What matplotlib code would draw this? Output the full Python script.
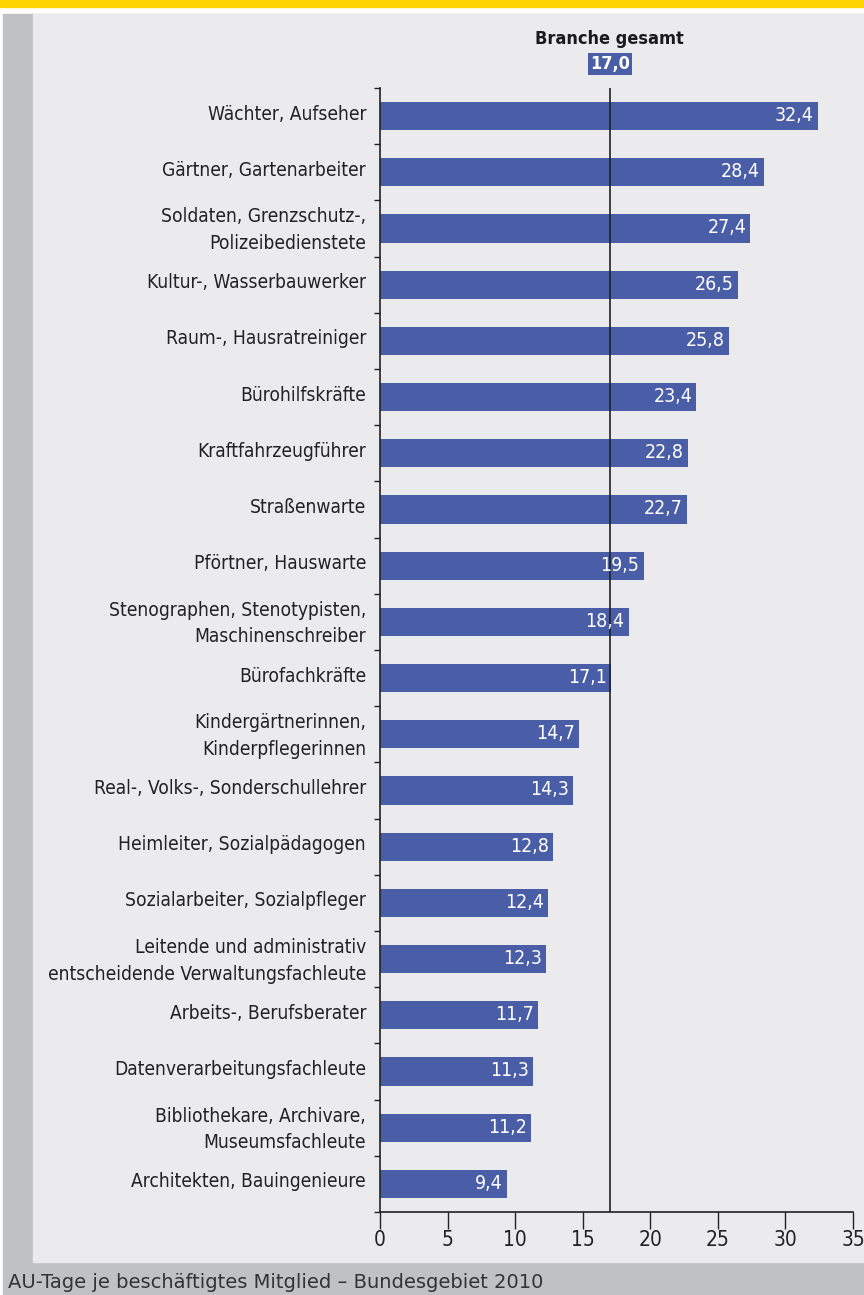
import matplotlib
matplotlib.use('Agg')
import matplotlib.pyplot as plt
from matplotlib.patches import Rectangle
from matplotlib.transforms import ScaledTranslation

# Werte aus der Grafik
berufe = [
    'Wächter, Aufseher',
    'Gärtner, Gartenarbeiter',
    'Soldaten, Grenzschutz-,\nPolizeibedienstete',
    'Kultur-, Wasserbauwerker',
    'Raum-, Hausratreiniger',
    'Bürohilfskräfte',
    'Kraftfahrzeugführer',
    'Straßenwarte',
    'Pförtner, Hauswarte',
    'Stenographen, Stenotypisten,\nMaschinenschreiber',
    'Bürofachkräfte',
    'Kindergärtnerinnen,\nKinderpflegerinnen',
    'Real-, Volks-, Sonderschullehrer',
    'Heimleiter, Sozialpädagogen',
    'Sozialarbeiter, Sozialpfleger',
    'Leitende und administrativ\nentscheidende Verwaltungsfachleute',
    'Arbeits-, Berufsberater',
    'Datenverarbeitungsfachleute',
    'Bibliothekare, Archivare,\nMuseumsfachleute',
    'Architekten, Bauingenieure',
]
au_tage = [32.4, 28.4, 27.4, 26.5, 25.8, 23.4, 22.8, 22.7, 19.5, 18.4,
           17.1, 14.7, 14.3, 12.8, 12.4, 12.3, 11.7, 11.3, 11.2, 9.4]
branche_gesamt = 17.0
x_ticks = [0, 5, 10, 15, 20, 25, 30, 35]

blau = '#4a5ea8'
plt.rcParams['font.family'] = 'DejaVu Sans'
txt = dict(stretch='condensed')

fig = plt.figure(figsize=(8.64, 12.95), dpi=100)
fig.patch.set_facecolor('white')

# Hintergrundflächen
W, H = 864, 1295
def rect(x0, y0, x1, y1, farbe):
    fig.patches.append(Rectangle((x0 / W, 1 - y1 / H), (x1 - x0) / W, (y1 - y0) / H,
                                 transform=fig.transFigure, color=farbe, zorder=-5))
rect(0, 0, 864, 7, '#ffd500')
rect(3, 14, 864, 1295, '#c0c1c3')
rect(33, 14, 864, 1262, '#ebebed')

ax = fig.add_axes([380 / W, 1 - 1212 / H, 473 / W, 1124 / H])
ax.set_zorder(2)
ax.set_facecolor('none')

pos = list(range(len(berufe)))
ax.barh(pos, au_tage, height=0.5, color=blau, zorder=2)
ax.set_ylim(len(berufe) - 0.5, -0.5)
ax.set_xlim(0, 35)

for p, v in zip(pos, au_tage):
    ax.text(v - 0.3, p - 0.01, f'{v:.1f}'.replace('.', ','), ha='right', va='center',
            color='white', fontsize=14, zorder=4, **txt)

# Linie Branche gesamt
ax.axvline(branche_gesamt, color='#222222', lw=1.2, zorder=3)
ax.text(branche_gesamt, -1.38, 'Branche gesamt', ha='center', va='center',
        fontsize=13, fontweight='bold', color='#1a1a1a', clip_on=False, **txt)
ax.text(branche_gesamt, -0.93, '17,0', ha='center', va='center',
        fontsize=13, fontweight='bold', color='white', clip_on=False,
        bbox=dict(boxstyle='square,pad=0.12', fc=blau, ec='none'), **txt)

# Achsen
ax.set_yticks(pos)
ax.set_yticklabels(berufe, fontsize=13.8, color='#222222', linespacing=1.5, **txt)
ax.tick_params(axis='y', which='major', length=0, pad=10)
ax.set_yticks([p + 0.5 for p in range(-1, len(berufe))], minor=True)
ax.tick_params(axis='y', which='minor', length=4, width=1, color='#222222')
hoch = ScaledTranslation(0, 4 / 100, fig.dpi_scale_trans)
for lab in ax.get_yticklabels():
    lab.set_transform(lab.get_transform() + hoch)

ax.set_xticks(x_ticks)
ax.set_xticklabels([str(t) for t in x_ticks], fontsize=15, color='#222222', **txt)
ax.tick_params(axis='x', length=12, width=1, color='#222222', pad=1)

for s in ['top', 'right']:
    ax.spines[s].set_visible(False)
for s in ['left', 'bottom']:
    ax.spines[s].set_color('#222222')
    ax.spines[s].set_linewidth(1.2)

fig.text(8 / W, 1 - 1283 / H, 'AU-Tage je beschäftigtes Mitglied – Bundesgebiet 2010',
         ha='left', va='center', fontsize=14, color='#333333')

plt.savefig('out.png', dpi=100)
